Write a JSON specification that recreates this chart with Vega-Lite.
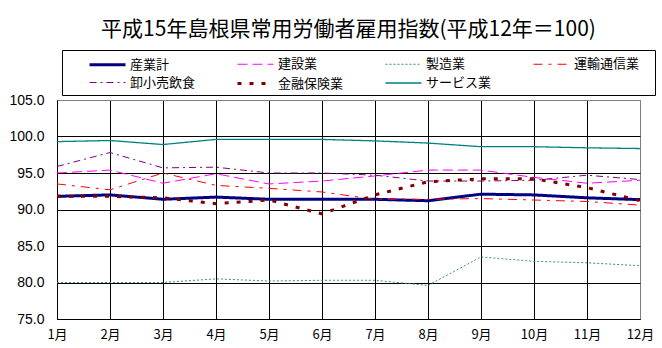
{
  "$schema": "https://vega.github.io/schema/vega-lite/v6.json",
  "width": 583,
  "height": 219,
  "autosize": "none",
  "padding": {"left": 57, "top": 100, "right": 22, "bottom": 29},
  "background": "white",
  "title": {
    "text": "平成15年島根県常用労働者雇用指数(平成12年＝100)",
    "font": "Noto Sans CJK JP",
    "fontSize": 21,
    "fontWeight": "normal",
    "color": "black",
    "anchor": "middle",
    "frame": "group",
    "offset": 10
  },
  "config": {
    "view": {"stroke": "#808080", "strokeWidth": 1},
    "font": "Noto Sans CJK JP"
  },
  "data": {
    "values": [
      {"m": 1, "s": "産業計", "v": 91.8}, {"m": 2, "s": "産業計", "v": 92.0}, {"m": 3, "s": "産業計", "v": 91.4}, {"m": 4, "s": "産業計", "v": 91.7}, {"m": 5, "s": "産業計", "v": 91.4}, {"m": 6, "s": "産業計", "v": 91.4}, {"m": 7, "s": "産業計", "v": 91.4}, {"m": 8, "s": "産業計", "v": 91.2}, {"m": 9, "s": "産業計", "v": 92.1}, {"m": 10, "s": "産業計", "v": 92.0}, {"m": 11, "s": "産業計", "v": 91.6}, {"m": 12, "s": "産業計", "v": 91.35},
      {"m": 1, "s": "建設業", "v": 95.0}, {"m": 2, "s": "建設業", "v": 95.4}, {"m": 3, "s": "建設業", "v": 93.6}, {"m": 4, "s": "建設業", "v": 94.9}, {"m": 5, "s": "建設業", "v": 93.5}, {"m": 6, "s": "建設業", "v": 93.9}, {"m": 7, "s": "建設業", "v": 94.6}, {"m": 8, "s": "建設業", "v": 95.4}, {"m": 9, "s": "建設業", "v": 95.4}, {"m": 10, "s": "建設業", "v": 94.4}, {"m": 11, "s": "建設業", "v": 93.6}, {"m": 12, "s": "建設業", "v": 94.0},
      {"m": 1, "s": "製造業", "v": 80.0}, {"m": 2, "s": "製造業", "v": 80.0}, {"m": 3, "s": "製造業", "v": 80.0}, {"m": 4, "s": "製造業", "v": 80.5}, {"m": 5, "s": "製造業", "v": 80.2}, {"m": 6, "s": "製造業", "v": 80.3}, {"m": 7, "s": "製造業", "v": 80.3}, {"m": 8, "s": "製造業", "v": 79.6}, {"m": 9, "s": "製造業", "v": 83.5}, {"m": 10, "s": "製造業", "v": 82.9}, {"m": 11, "s": "製造業", "v": 82.7}, {"m": 12, "s": "製造業", "v": 82.3},
      {"m": 1, "s": "運輸通信業", "v": 93.5}, {"m": 2, "s": "運輸通信業", "v": 92.7}, {"m": 3, "s": "運輸通信業", "v": 95.0}, {"m": 4, "s": "運輸通信業", "v": 93.3}, {"m": 5, "s": "運輸通信業", "v": 92.9}, {"m": 6, "s": "運輸通信業", "v": 92.4}, {"m": 7, "s": "運輸通信業", "v": 91.4}, {"m": 8, "s": "運輸通信業", "v": 91.4}, {"m": 9, "s": "運輸通信業", "v": 91.5}, {"m": 10, "s": "運輸通信業", "v": 91.3}, {"m": 11, "s": "運輸通信業", "v": 91.1}, {"m": 12, "s": "運輸通信業", "v": 90.6},
      {"m": 1, "s": "卸小売飲食", "v": 95.9}, {"m": 2, "s": "卸小売飲食", "v": 97.8}, {"m": 3, "s": "卸小売飲食", "v": 95.7}, {"m": 4, "s": "卸小売飲食", "v": 95.8}, {"m": 5, "s": "卸小売飲食", "v": 95.0}, {"m": 6, "s": "卸小売飲食", "v": 95.0}, {"m": 7, "s": "卸小売飲食", "v": 94.7}, {"m": 8, "s": "卸小売飲食", "v": 93.9}, {"m": 9, "s": "卸小売飲食", "v": 93.9}, {"m": 10, "s": "卸小売飲食", "v": 94.0}, {"m": 11, "s": "卸小売飲食", "v": 94.7}, {"m": 12, "s": "卸小売飲食", "v": 94.1},
      {"m": 1, "s": "金融保険業", "v": 91.8}, {"m": 2, "s": "金融保険業", "v": 91.8}, {"m": 3, "s": "金融保険業", "v": 91.6}, {"m": 4, "s": "金融保険業", "v": 90.8}, {"m": 5, "s": "金融保険業", "v": 91.3}, {"m": 6, "s": "金融保険業", "v": 89.4}, {"m": 7, "s": "金融保険業", "v": 92.0}, {"m": 8, "s": "金融保険業", "v": 93.8}, {"m": 9, "s": "金融保険業", "v": 94.2}, {"m": 10, "s": "金融保険業", "v": 94.2}, {"m": 11, "s": "金融保険業", "v": 93.0}, {"m": 12, "s": "金融保険業", "v": 91.2},
      {"m": 1, "s": "サービス業", "v": 99.3}, {"m": 2, "s": "サービス業", "v": 99.45}, {"m": 3, "s": "サービス業", "v": 98.9}, {"m": 4, "s": "サービス業", "v": 99.6}, {"m": 5, "s": "サービス業", "v": 99.6}, {"m": 6, "s": "サービス業", "v": 99.6}, {"m": 7, "s": "サービス業", "v": 99.4}, {"m": 8, "s": "サービス業", "v": 99.1}, {"m": 9, "s": "サービス業", "v": 98.6}, {"m": 10, "s": "サービス業", "v": 98.6}, {"m": 11, "s": "サービス業", "v": 98.45}, {"m": 12, "s": "サービス業", "v": 98.35}
    ]
  },
  "mark": {"type": "line", "strokeCap": "butt", "strokeJoin": "miter"},
  "encoding": {
    "x": {
      "field": "m",
      "type": "quantitative",
      "scale": {"domain": [1, 12], "nice": false, "zero": false},
      "axis": {
        "title": null,
        "values": [1, 2, 3, 4, 5, 6, 7, 8, 9, 10, 11, 12],
        "labelExpr": "datum.value + '月'",
        "labelFont": "Noto Sans CJK JP",
        "labelFontSize": 13,
        "labelColor": "black",
        "labelPadding": 9,
        "labelFlush": false,
        "ticks": false,
        "domainColor": "black",
        "grid": true,
        "gridColor": {"condition": {"test": "datum.value == 12", "value": "#808080"}, "value": "black"},
        "gridOpacity": 1
      }
    },
    "y": {
      "field": "v",
      "type": "quantitative",
      "scale": {"domain": [75, 105], "nice": false, "zero": false},
      "axis": {
        "title": null,
        "values": [75, 80, 85, 90, 95, 100, 105],
        "format": ".1f",
        "labelFont": "Liberation Sans",
        "labelFontSize": 14,
        "labelColor": "black",
        "labelPadding": 13,
        "ticks": false,
        "domainColor": "black",
        "grid": true,
        "gridColor": {"condition": {"test": "datum.value == 105", "value": "#808080"}, "value": "black"},
        "gridOpacity": 1
      }
    },
    "color": {
      "field": "s",
      "type": "nominal",
      "sort": null,
      "scale": {
        "domain": ["産業計", "建設業", "製造業", "運輸通信業", "卸小売飲食", "金融保険業", "サービス業"],
        "range": ["#000080", "#FF00FF", "#339966", "#FF0000", "#800080", "#800000", "#008080"]
      },
      "legend": {
        "orient": "none",
        "legendX": 5,
        "legendY": -50,
        "direction": "horizontal",
        "columns": 4,
        "title": " ",
        "titleOrient": "right",
        "titlePadding": 12,
        "titleFontSize": 13,
        "strokeColor": "black",
        "fillColor": "white",
        "padding": 4,
        "gridAlign": "all",
        "columnPadding": 18,
        "rowPadding": 1,
        "symbolType": "M-2,0L2,0",
        "symbolSize": 324,
        "symbolOffset": 31,
        "labelOffset": 12,
        "labelFont": "Noto Sans CJK JP",
        "labelFontSize": 13,
        "labelColor": "black"
      }
    },
    "strokeDash": {
      "field": "s",
      "type": "nominal",
      "sort": null,
      "scale": {
        "domain": ["産業計", "建設業", "製造業", "運輸通信業", "卸小売飲食", "金融保険業", "サービス業"],
        "range": [[1, 0], [10, 5], [2, 2], [9, 6, 3, 6], [7, 4, 2, 4], [4, 8], [1, 0]]
      }
    },
    "strokeWidth": {
      "field": "s",
      "type": "nominal",
      "sort": null,
      "scale": {
        "type": "ordinal",
        "domain": ["産業計", "建設業", "製造業", "運輸通信業", "卸小売飲食", "金融保険業", "サービス業"],
        "range": [3, 1, 1, 1, 1, 3, 1.3]
      }
    }
  }
}
